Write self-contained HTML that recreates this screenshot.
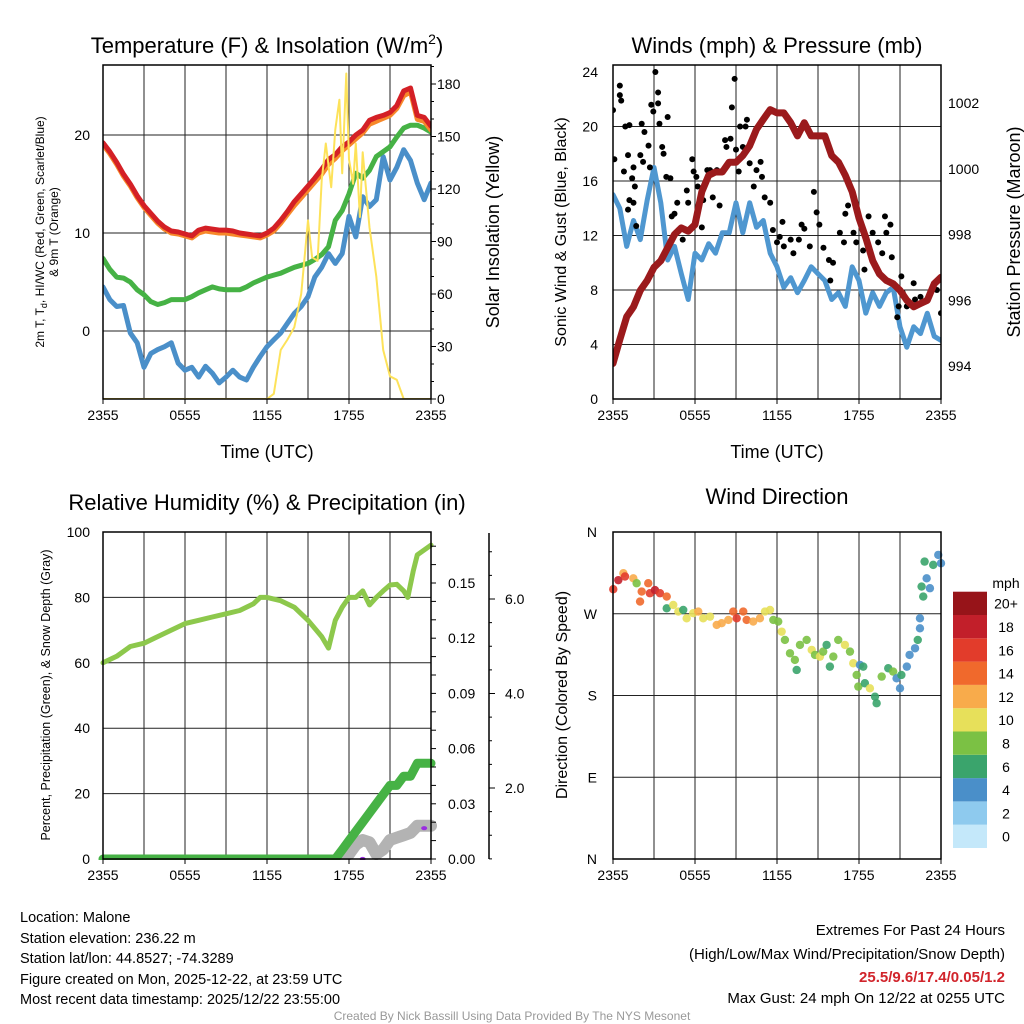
<!DOCTYPE html>
<html><head><meta charset="utf-8"><style>
html,body{margin:0;padding:0;background:#fff;}
svg{display:block;font-family:"Liberation Sans",sans-serif;}
</style></head><body>
<svg id="c" width="1024" height="1024" viewBox="0 0 1024 1024" xmlns="http://www.w3.org/2000/svg">
<g id="grid"></g><g id="marks"></g><g id="axes"></g>
<g id="texts" fill="#000">
<text x="267" y="53" font-size="22" text-anchor="middle">Temperature (F) &amp; Insolation (W/m<tspan font-size="14" dy="-9">2</tspan><tspan dy="9">)</tspan></text>
<text x="777" y="53" font-size="22" text-anchor="middle">Winds (mph) &amp; Pressure (mb)</text>
<text x="267" y="510" font-size="22" text-anchor="middle">Relative Humidity (%) &amp; Precipitation (in)</text>
<text x="777" y="504" font-size="22" text-anchor="middle">Wind Direction</text>
<text x="267" y="458" font-size="18" text-anchor="middle">Time (UTC)</text>
<text x="777" y="458" font-size="18" text-anchor="middle">Time (UTC)</text>
<text transform="translate(44,232) rotate(-90)" font-size="12" text-anchor="middle">2m T, T<tspan font-size="9" dy="3">d</tspan><tspan dy="-3">, HI/WC (Red, Green, Scarlet/Blue)</tspan></text>
<text transform="translate(58,232) rotate(-90)" font-size="12" text-anchor="middle">&amp; 9m T (Orange)</text>
<text transform="translate(499,232) rotate(-90)" font-size="18" text-anchor="middle">Solar Insolation (Yellow)</text>
<text transform="translate(566,232) rotate(-90)" font-size="16" text-anchor="middle">Sonic Wind &amp; Gust (Blue, Black)</text>
<text transform="translate(1020,232) rotate(-90)" font-size="18" text-anchor="middle">Station Pressure (Maroon)</text>
<text transform="translate(50,695) rotate(-90)" font-size="12.5" text-anchor="middle">Percent, Precipitation (Green), &amp; Snow Depth (Gray)</text>
<text transform="translate(567,695) rotate(-90)" font-size="16" text-anchor="middle">Direction (Colored By Speed)</text>
<g font-size="14.5">
<text x="20" y="922">Location: Malone</text>
<text x="20" y="943">Station elevation: 236.22 m</text>
<text x="20" y="963">Station lat/lon: 44.8527; -74.3289</text>
<text x="20" y="984">Figure created on Mon, 2025-12-22, at 23:59 UTC</text>
<text x="20" y="1004">Most recent data timestamp: 2025/12/22 23:55:00</text>
</g>
<g font-size="15" text-anchor="end">
<text x="1005" y="935">Extremes For Past 24 Hours</text>
<text x="1005" y="959">(High/Low/Max Wind/Precipitation/Snow Depth)</text>
<text x="1005" y="982" fill="#d1242b" font-weight="bold">25.5/9.6/17.4/0.05/1.2</text>
<text x="1005" y="1003">Max Gust: 24 mph On 12/22 at 0255 UTC</text>
</g>
<text x="512" y="1020" font-size="12" fill="#999" text-anchor="middle">Created By Nick Bassill Using Data Provided By The NYS Mesonet</text>
<text x="1006" y="588" font-size="14" text-anchor="middle">mph</text>
</g>
</svg>
<script>
// ---------- data ----------
const hours = [0,0.5,1,1.5,2,2.5,3,3.5,4,4.5,5,5.5,6,6.5,7,7.5,8,8.5,9,9.5,10,10.5,11,11.5,12,12.5,13,13.5,14,14.5,15,15.5,16,16.5,17,17.5,18,18.5,19,19.5,20,20.5,21,21.5,22,22.5,23,23.5,24];
const xTickLabels = ["2355","0555","1155","1755","2355"];
const tempRed = [19.2,18.3,17.2,16.0,15.0,13.8,12.8,12.0,11.2,10.6,10.2,10.1,9.9,9.7,10.3,10.5,10.4,10.3,10.3,10.2,10.0,9.9,9.8,9.7,10.0,10.5,11.3,12.2,13.2,14.0,14.8,15.6,16.5,17.5,18.0,18.8,19.3,20.0,20.5,21.5,21.8,22.0,22.3,23.0,24.5,24.8,22.0,21.8,20.9];
const tempOrange = [19.0,18.1,17.0,15.8,14.8,13.6,12.6,11.8,11.0,10.4,10.0,9.9,9.7,9.5,10.0,10.2,10.1,10.0,10.0,9.9,9.8,9.7,9.6,9.5,9.8,10.2,11.0,11.9,12.8,13.6,14.4,15.2,16.0,17.0,17.6,18.4,19.0,19.6,20.2,21.1,21.4,21.7,22.0,22.7,24.0,24.4,21.6,21.4,20.5];
const tempGreen = [7.4,6.3,5.5,5.4,5.0,4.2,3.7,3.0,2.7,2.9,3.2,3.2,3.2,3.5,3.9,4.2,4.5,4.3,4.2,4.2,4.2,4.5,4.9,5.2,5.5,5.7,5.9,6.2,6.5,6.7,6.9,7.3,7.8,8.6,11.3,12.3,14.0,16.1,15.6,16.4,17.8,18.3,18.8,19.8,20.7,21.0,21.0,20.7,20.3];
const tempBlue = [4.5,3.2,2.5,2.6,-0.2,-1.2,-3.7,-2.3,-1.9,-1.6,-1.2,-3.3,-4.0,-3.7,-4.7,-3.6,-4.3,-5.3,-4.7,-4.0,-4.7,-5.0,-3.7,-2.6,-1.6,-0.9,-0.2,0.8,1.8,2.5,3.5,5.5,6.5,7.9,6.9,7.9,11.7,9.6,13.7,12.7,13.4,17.8,15.4,16.7,18.5,17.4,15.1,13.4,15.1];
const solarHours = [0,12,12.5,13,13.5,14,14.5,15,15.3,15.7,16,16.3,16.7,17,17.3,17.5,17.8,18,18.3,18.5,18.8,19,19.5,20,20.5,21,21.5,22,24];
const solarVals = [0,0,3,28,34,41,60,102,81,79,125,146,121,154,171,129,186,137,123,146,104,141,98,70,28,13,11,0,0];
const windSpeed = [15,14,11.2,13.1,11.7,14.6,17,14.4,10.2,11.2,9.2,7.3,10.7,10.2,11.4,10.7,12.2,12.2,14.4,12.2,14.4,12.6,13.1,10.7,9.7,8.2,8.9,7.8,8.7,9.7,9.2,8.7,7.3,7.8,6.8,9.7,8.7,6.3,7.8,6.8,7.8,8.2,5.3,3.8,5.3,4.8,6.3,4.6,4.3];
const pressure = [994.08,994.8,995.5,995.8,996.3,996.6,997.0,997.2,997.6,998.0,998.2,998.1,998.3,999.3,999.8,999.9,999.9,1000.2,1000.2,1000.4,1000.7,1001.2,1001.5,1001.8,1001.7,1001.7,1001.4,1001.0,1001.4,1001.0,1001.0,1001.0,1000.4,1000.2,999.8,999.3,998.5,997.9,997.2,996.8,996.6,996.5,996.3,996.0,995.8,995.9,996.0,996.5,996.7];
const gustHours = [0,0.5,0.6,0.5,0.1,0.9,1.2,0.8,1.1,1.5,1.4,1.6,1.2,1.5,1.1,1.7,2.0,2.2,2.1,2.3,2.6,2.7,2.8,2.95,3.1,3.3,3.3,3.4,3.6,3.7,4.0,3.9,4.2,4.3,4.7,4.8,4.5,5.1,5.4,5.5,5.8,5.9,6.1,6.2,6.5,6.6,6.9,7.1,7.3,7.6,7.8,8.2,8.3,8.6,8.7,8.9,9.0,9.2,9.3,9.7,9.5,9.8,10.0,10.3,10.5,10.8,10.9,11.1,11.5,11.7,12.0,12.2,12.4,12.5,13.0,13.2,13.6,13.8,14.0,14.4,14.7,14.9,15.1,15.4,15.8,15.9,16.1,16.6,16.9,17.0,17.2,17.6,17.8,18.3,18.4,18.7,19.0,19.4,19.7,19.9,20.0,20.3,20.4,20.8,20.9,21.1,21.2,21.5,22.0,22.1,22.5,23.0,23.7,23.8,24.0];
const gustVals = [21.2,22.3,21.9,23.0,17.6,20.0,20.1,16.7,17.9,17.0,16.2,15.6,14.6,14.4,13.9,12.7,17.9,17.4,20.2,19.6,18.6,17.0,21.6,21.1,24.0,22.5,21.7,20.2,18.5,18.0,20.7,16.3,16.2,13.4,14.4,12.4,13.6,11.7,15.3,14.4,17.6,16.7,16.3,15.6,12.6,14.6,16.8,16.8,14.8,16.8,14.2,19.0,18.5,19.1,21.4,23.5,18.3,16.7,20.0,20.0,18.5,20.5,17.3,15.6,16.8,17.4,16.3,14.8,14.4,12.4,11.5,11.9,13.0,11.2,11.7,10.7,11.7,12.8,12.5,11.2,15.2,13.7,12.8,11.1,10.2,8.7,10.0,12.2,11.5,13.6,14.2,12.2,11.5,10.9,9.5,13.4,12.2,11.5,10.7,13.4,12.2,12.8,10.4,6.0,6.8,9.0,7.8,6.8,8.5,7.3,7.5,7.3,8.0,8.7,6.3];
const rhHours = [0,1,2,3,4,5,6,7,8,9,10,11,11.5,12,13,14,15,16,16.5,17,17.5,18,18.5,19,19.5,20,20.5,21,21.5,22,22.3,22.7,23,24];
const rhVals = [60,62,65,66,68,70,72,73,74,75,76,78,80,80,79,77,73,68,64.5,73,77,80,80,82,77.7,80,82,83.8,84,82,80,88,93,96];
const precipHours = [0,17,17.5,18,18.5,19,19.5,20,20.5,21,21.5,22,22.5,23,23.2,24];
const precipVals = [0,0,0.005,0.01,0.015,0.02,0.025,0.03,0.035,0.04,0.04,0.045,0.045,0.052,0.052,0.052];
const snowHours = [17.3,18,18.5,19,19.5,20,20.5,21,21.5,22,22.5,23,24];
const snowVals = [0.5,0.6,0.8,0.9,0.85,0.6,0.7,0.9,0.95,1.0,1.05,1.2,1.2];
const dirHours = [0.02,0.39,0.76,0.88,1.49,1.73,2.1,1.98,2.58,2.7,3.07,3.44,3.93,3.93,4.41,4.78,5.14,5.39,5.87,6.24,6.6,7.1,7.59,7.95,8.44,8.8,9.05,9.53,9.78,10.26,10.75,11.12,11.49,11.73,12.09,12.34,12.58,12.95,13.31,13.44,13.68,14.17,14.54,14.78,15.14,15.38,15.63,15.87,16.12,16.48,16.97,17.34,17.58,18.07,18.31,17.83,17.95,18.43,18.8,19.17,19.29,19.66,20.14,20.5,20.75,21.0,21.1,21.5,21.7,22.1,22.3,22.46,22.46,22.7,22.58,22.95,22.8,23.19,23.43,23.8,24.0];
const dirDeg = [297,307,314.6,311,309,303.6,294.4,283.4,303.6,292.6,296,292.6,288.9,276,279.7,272.4,274.2,265,270.6,272.4,265,266.8,257.7,259.6,263.2,272.4,265,272.4,263.2,261.4,265,272.4,274.2,263.2,261.4,250.3,241.2,226.5,219.2,208.1,235.7,241.2,230.2,224.7,222.8,228.3,235.7,211.8,222.8,241.2,235.7,228.3,215.5,213.7,211.8,202.6,189.8,193.5,187.9,178.7,171.5,200.8,210,206.3,198.9,187.9,202.6,211.8,224.7,232,241.2,254,265,288.9,299.9,309,327.4,298.1,323.8,334.8,325.6];
const dirSpeed = [16,18,12,16,12,8,14,14,14,16,18,16,14,6,10,10,6,10,10,12,10,10,12,12,12,14,16,14,14,12,12,10,10,8,8,10,8,8,8,6,8,8,10,8,10,8,6,6,8,8,10,8,10,4,6,8,8,6,10,6,6,8,6,8,4,4,6,4,4,4,6,4,4,6,6,4,6,4,6,4,4];
const cbLabels = ["0","2","4","6","8","10","12","14","16","18","20+"];
const cbColors = ["#c4e8fa","#8ecaee","#4a8fc9","#3aa46c","#7bc144","#e7e05a","#f8ab4b","#f0692c","#e23c2b","#c21f2a","#971419"];

// ---------- helpers ----------
const NS="http://www.w3.org/2000/svg";
const gG=document.getElementById('grid'),gM=document.getElementById('marks'),gA=document.getElementById('axes');
function mk(tag,attrs,parent){const e=document.createElementNS(NS,tag);for(const k in attrs)e.setAttribute(k,attrs[k]);parent.appendChild(e);return e;}
function lin(d0,d1,r0,r1){return v=>r0+(v-d0)*(r1-r0)/(d1-d0);}
function pathD(xs,ys,sx,sy){return xs.map((x,i)=>(i?'L':'M')+sx(x).toFixed(1)+','+sy(ys[i]).toFixed(1)).join('');}
function colorFor(s){let i=Math.round(s/2);if(i<0)i=0;if(i>10)i=10;return cbColors[i];}

const P1={x0:103,x1:431,y0:65,y1:399}, P2={x0:613,x1:941,y0:65,y1:399}, P3={x0:103,x1:431,y0:532,y1:859}, P4={x0:613,x1:941,y0:532,y1:859};
const sx1=lin(0,24,P1.x0,P1.x1), sx2=lin(0,24,P2.x0,P2.x1);
const sTemp=lin(0,20,331,135), sSolar=lin(0,180,399,84);
const sWind=lin(0,24,399,72), sPres=lin(994,1002,366,103);
const sRH=lin(0,100,859,532), sPrec=lin(0,0.15,859,583), sSnow=lin(2,6,788,599);
const sDir=lin(0,360,859,532);

function panelGrid(P,sx,hys,name){
  for(let h=3;h<24;h+=3){
    const l=mk('line',{x1:sx(h),x2:sx(h),y1:P.y0,y2:P.y1,stroke:'#222','stroke-width':1},gG);
    
    
  }
  hys.forEach(y=>{
    const l=mk('line',{x1:P.x0,x2:P.x1,y1:y,y2:y,stroke:'#222','stroke-width':1},gG);
    
    
  });
  const r=mk('rect',{x:P.x0,y:P.y0,width:P.x1-P.x0,height:P.y1-P.y0,fill:'none',stroke:'#000','stroke-width':1.5},gA);
  
  
  xTickLabels.forEach((t,i)=>{
    const tx=mk('text',{x:sx(i*6),y:P.y1+21,'font-size':14,'text-anchor':'middle'},gA);
    tx.textContent=t;
    
    
    mk('line',{x1:sx(i*6),x2:sx(i*6),y1:P.y1,y2:P.y1+5,stroke:'#000'},gA);
  });
}
function yTicks(vals,labels,sy,x,anchor,tickDir){
  vals.forEach((v,i)=>{
    const tx=mk('text',{x:x,y:sy(v)+5,'font-size':14,'text-anchor':anchor},gA);
    tx.textContent=labels[i];
    
    
  });
}
function poly(xs,ys,sx,sy,color,w,name){
  const p=mk('path',{d:pathD(xs,ys,sx,sy),fill:'none',stroke:color,'stroke-width':w,'stroke-linejoin':'round','stroke-linecap':'round'},gM);
  
  
  return p;
}

// Panel 1
panelGrid(P1,sx1,[sTemp(0),sTemp(10),sTemp(20)],'temp');
yTicks([0,10,20],["0","10","20"],sTemp,90,'end');
yTicks([0,30,60,90,120,150,180],["0","30","60","90","120","150","180"],sSolar,437,'start');
for(let v=0;v<=190;v+=10){mk('line',{x1:P1.x1,x2:P1.x1+(v%30?3:5),y1:sSolar(v),y2:sSolar(v),stroke:'#000'},gA);}
const cp1=mk('clipPath',{id:'cp1'},gM);mk('rect',{x:P1.x0,y:P1.y0,width:328,height:334},cp1);
const g1=mk('g',{'clip-path':'url(#cp1)'},gM);
function poly1(xs,ys,sy,c,w,n){const p=poly(xs,ys,sx1,sy,c,w,n);g1.appendChild(p);}
poly1(hours,tempBlue,sTemp,'#4a8fc9',5,'dewpoint-line');
poly1(hours,tempGreen,sTemp,'#46b245',5,'heat-index-line');
poly1(hours,tempOrange,sTemp,'#f7882a',5,'temp-9m-line');
poly1(hours,tempRed,sTemp,'#d42026',5,'temp-2m-line');
poly1(solarHours,solarVals,sSolar,'#fde25a',2,'solar-line');

// Panel 2
panelGrid(P2,sx2,[4,8,12,16,20].map(sWind),'winds');
yTicks([0,4,8,12,16,20,24],["0","4","8","12","16","20","24"],sWind,598,'end');
yTicks([994,996,998,1000,1002],["994","996","998","1000","1002"],sPres,948,'start');
const cp2=mk('clipPath',{id:'cp2'},gM);mk('rect',{x:P2.x0,y:P2.y0,width:328,height:334},cp2);
const g2=mk('g',{'clip-path':'url(#cp2)'},gM);
g2.appendChild(poly(hours,windSpeed,sx2,sWind,'#4f97d0',5,'wind-speed-line'));
gustHours.forEach((h,i)=>{
  const c=mk('circle',{cx:sx2(h),cy:sWind(gustVals[i]),r:3,fill:'#000'},g2);
  
  
});
g2.appendChild(poly(hours,pressure,sx2,sPres,'#9b1a1c',7,'pressure-line'));

// Panel 3
panelGrid(P3,sx1,[20,40,60,80].map(sRH),'humidity');
yTicks([0,20,40,60,80,100],["0","20","40","60","80","100"],sRH,90,'end');
yTicks([0,0.03,0.06,0.09,0.12,0.15],["0.00","0.03","0.06","0.09","0.12","0.15"],sPrec,448,'start');
for(let v=0;v<=0.17;v+=0.01){mk('line',{x1:P3.x1,x2:P3.x1+5,y1:sPrec(v),y2:sPrec(v),stroke:'#000'},gA);}
mk('line',{x1:489,x2:489,y1:533,y2:859,stroke:'#000','stroke-width':1.5},gA);
yTicks([2,4,6],["2.0","4.0","6.0"],sSnow,505,'start');
for(let v=0.5;v<=7;v+=0.5){mk('line',{x1:489,x2:489+(v%2?3:6),y1:sSnow(v),y2:sSnow(v),stroke:'#000'},gA);}
const cp3=mk('clipPath',{id:'cp3'},gM);mk('rect',{x:P3.x0-5,y:P3.y0,width:340,height:328},cp3);
const g3=mk('g',{'clip-path':'url(#cp3)'},gM);
g3.appendChild(poly(snowHours,snowVals,sx1,sSnow,'#b3b3b3',12,'snow-depth-line'));
g3.appendChild(poly(precipHours,precipVals,sx1,sPrec,'#46b245',9,'precip-line'));
g3.appendChild(poly(rhHours,rhVals,sx1,sRH,'#8dc84c',5,'rh-line'));
[[19,0.5],[23.5,1.15]].forEach(p=>{mk('ellipse',{cx:sx1(p[0]),cy:sSnow(p[1]),rx:3,ry:2,fill:'#9a2de0'},g3);});

// Panel 4
panelGrid(P4,sx2,[90,180,270].map(sDir),'direction');
yTicks([0,90,180,270,360],["N","E","S","W","N"],sDir,597,'end');
dirHours.forEach((h,i)=>{
  const c=mk('circle',{cx:sx2(h),cy:sDir(dirDeg[i]),r:4.2,fill:colorFor(dirSpeed[i]),'fill-opacity':0.9},gM);
  
  
});
cbColors.forEach((c,i)=>{
  const y=848-(i+1)*23.3;
  const r=mk('rect',{x:953,y:y,width:34,height:23.3,fill:c},gA);
  
  
  const t=mk('text',{x:1006,y:y+17,'font-size':14,'text-anchor':'middle'},gA);
  t.textContent=cbLabels[i];
  
  
});
</script>
</body></html>
